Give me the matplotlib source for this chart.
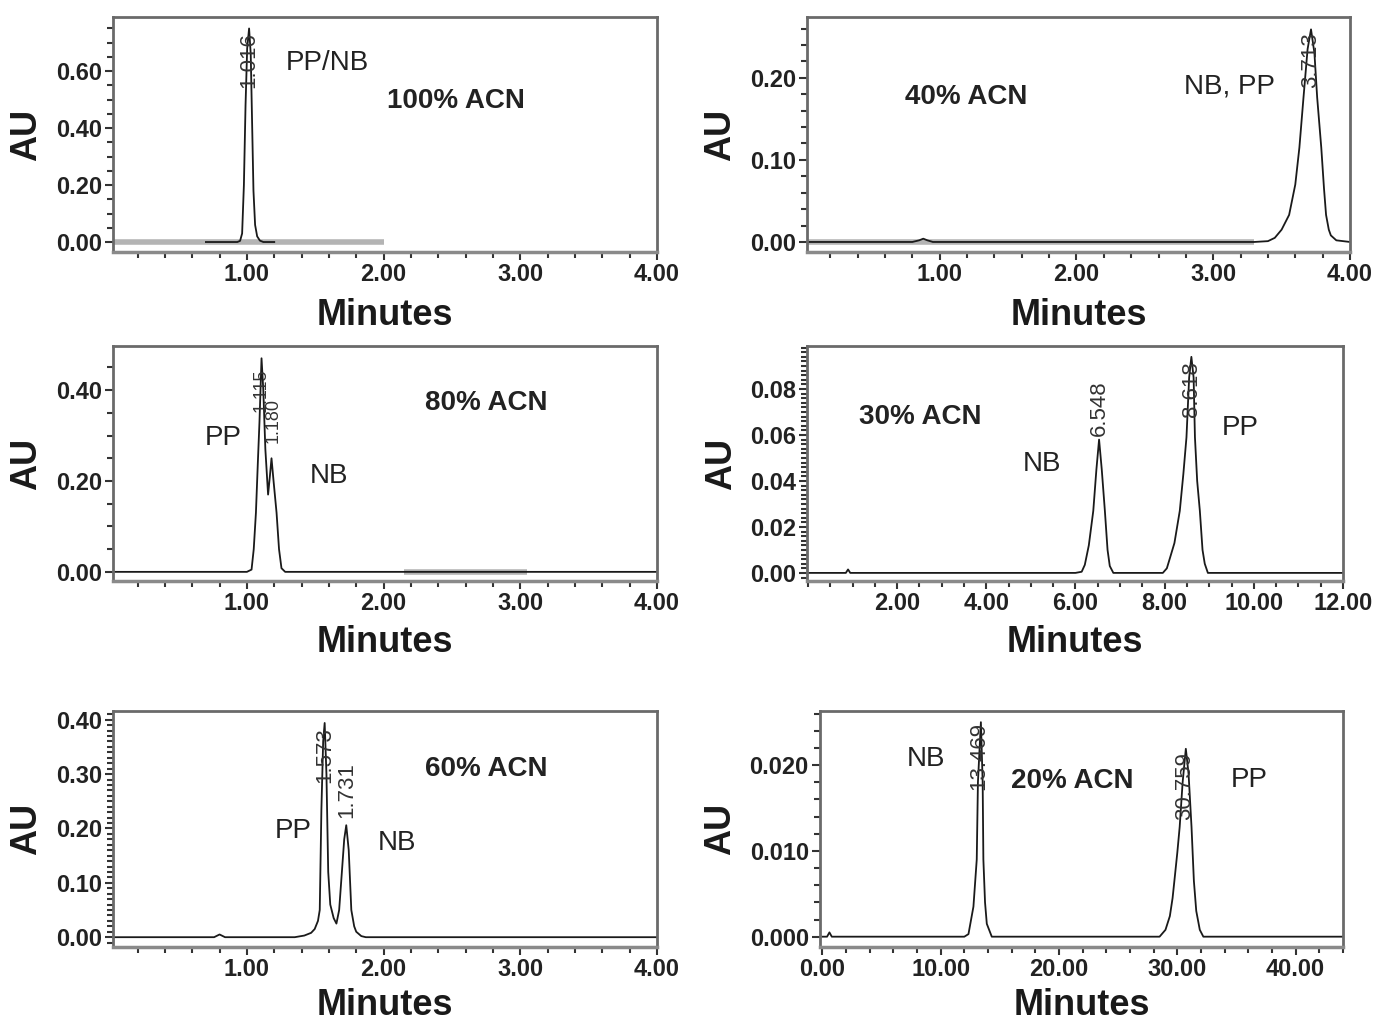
import matplotlib
matplotlib.use("Agg")
import matplotlib.pyplot as plt
from matplotlib.ticker import MultipleLocator, FormatStrFormatter

plt.rcParams['font.family'] = ['Liberation Sans', 'DejaVu Sans']

# ---- traces (time in min, absorbance in AU) ----
# 100% ACN
t_100 = [0.70, 0.93, 0.95, 0.965, 0.978, 0.99, 1.002, 1.016, 1.028, 1.038, 1.048, 1.06, 1.075, 1.095, 1.12, 1.20]
au_100 = [0.0, 0.0, 0.004, 0.03, 0.20, 0.48, 0.68, 0.75, 0.66, 0.42, 0.18, 0.06, 0.02, 0.005, 0.0, 0.0]

# 40% ACN
t_40 = [0.0, 0.80, 0.85, 0.88, 0.91, 0.95, 3.30, 3.40, 3.45, 3.50, 3.555, 3.60, 3.63, 3.66, 3.69, 3.715,
        3.74, 3.76, 3.79, 3.81, 3.825, 3.845, 3.86, 3.90, 4.0]
au_40 = [0.0, 0.0, 0.002, 0.004, 0.002, 0.0, 0.0, 0.001, 0.005, 0.015, 0.033, 0.07, 0.115, 0.176, 0.235, 0.259,
         0.23, 0.176, 0.115, 0.065, 0.033, 0.015, 0.008, 0.002, 0.0]

# 80% ACN
t_80 = [0.0, 1.00, 1.034, 1.05, 1.066, 1.08, 1.092, 1.107, 1.12, 1.135, 1.155, 1.168, 1.18, 1.195, 1.217,
        1.235, 1.253, 1.28, 4.0]
au_80 = [0.0, 0.0, 0.005, 0.05, 0.13, 0.24, 0.33, 0.47, 0.40, 0.27, 0.17, 0.21, 0.25, 0.20, 0.13,
         0.05, 0.008, 0.0, 0.0]

# 30% ACN
t_30 = [0.0, 0.85, 0.9, 0.95, 1.0, 6.0, 6.14, 6.21, 6.30, 6.40, 6.47, 6.53, 6.59, 6.66, 6.72, 6.77, 6.85,
        7.96, 8.05, 8.12, 8.22, 8.34, 8.42, 8.49, 8.55, 8.60, 8.65, 8.68, 8.73, 8.79, 8.85, 8.90, 8.97, 12.0]
au_30 = [0.0, 0.0, 0.0015, 0.0, 0.0, 0.0, 0.0005, 0.0035, 0.012, 0.027, 0.045, 0.058, 0.045, 0.027, 0.010, 0.003, 0.0,
         0.0, 0.002, 0.0065, 0.013, 0.027, 0.043, 0.059, 0.085, 0.094, 0.085, 0.059, 0.04, 0.027, 0.01, 0.004, 0.0, 0.0]

# 60% ACN
t_60 = [0.0, 0.76, 0.80, 0.84, 1.35, 1.42, 1.47, 1.496, 1.52, 1.533, 1.545, 1.558, 1.569, 1.582, 1.595, 1.61,
        1.635, 1.655, 1.675, 1.695, 1.712, 1.727, 1.745, 1.764, 1.785, 1.80, 1.837, 1.87, 4.0]
au_60 = [0.0, 0.0, 0.005, 0.0, 0.0, 0.003, 0.008, 0.015, 0.03, 0.05, 0.234, 0.36, 0.394, 0.30, 0.12, 0.06,
         0.035, 0.025, 0.05, 0.12, 0.18, 0.206, 0.16, 0.05, 0.02, 0.01, 0.002, 0.0, 0.0]

# 20% ACN
t_20 = [0.0, 0.4, 0.6, 0.8, 12.0, 12.35, 12.77, 13.05, 13.15, 13.4, 13.55, 13.61, 13.75, 13.9, 14.32,
        28.5, 29.0, 29.37, 29.6, 29.79, 30.0, 30.2, 30.45, 30.72, 30.95, 31.2, 31.4, 31.6, 31.9, 32.2, 44.0]
au_20 = [0.0, 0.0, 0.0005, 0.0, 0.0, 0.0003, 0.0035, 0.009, 0.018, 0.025, 0.018, 0.009, 0.004, 0.0015, 0.0,
         0.0, 0.0008, 0.0024, 0.0045, 0.007, 0.0098, 0.0128, 0.018, 0.0219, 0.019, 0.0128, 0.0065, 0.003, 0.0008,
         0.0, 0.0]

# gray integration baselines (start, end)
base_100 = [0.0, 2.0]
base_40 = [0.0, 3.30]
base_80 = [2.15, 3.05]

# peak retention-time labels (time, label y, text)
rt_100 = [(1.015, 0.64, "1.016")]
rt_40 = [(3.715, 0.222, "3.713")]
rt_80 = [(1.103, 0.40, "1.115"), (1.19, 0.334, "1.180")]
rt_30 = [(6.53, 0.0717, "6.548"), (8.60, 0.080, "8.618")]
rt_60 = [(1.569, 0.335, "1.573"), (1.727, 0.27, "1.731")]
rt_20 = [(13.2, 0.021, "13.469"), (30.6, 0.0176, "30.759")]

# compound / condition labels (x, y, text, bold)
notes_100 = [(1.59, 0.63, "PP/NB", False), (2.53, 0.495, "100% ACN", True)]
notes_40 = [(1.197, 0.176, "40% ACN", True), (3.117, 0.189, "NB, PP", False)]
notes_80 = [(0.825, 0.295, "PP", False), (1.60, 0.211, "NB", False), (2.75, 0.371, "80% ACN", True)]
notes_30 = [(2.53, 0.0678, "30% ACN", True), (5.25, 0.0474, "NB", False), (9.69, 0.063, "PP", False)]
notes_60 = [(1.336, 0.195, "PP", False), (2.10, 0.173, "NB", False), (2.75, 0.309, "60% ACN", True)]
notes_20 = [(8.78, 0.0207, "NB", False), (21.1, 0.0181, "20% ACN", True), (36.1, 0.0183, "PP", False)]

xt_4 = [1.0, 2.0, 3.0, 4.0]
xt_12 = [2.0, 4.0, 6.0, 8.0, 10.0, 12.0]
xt_44 = [0.0, 10.0, 20.0, 30.0, 40.0]

fig = plt.figure(figsize=(13.76, 10.21), dpi=100)

panels = [
    # rect, t, au, xlim, ylim, xticks, yticks, xminor, yminor, yfmt, rt, notes, base, xlab_y, ylab_x, rt size
    ([0.0821, 0.7532, 0.3953, 0.2301], t_100, au_100, (0.02, 4.0), (-0.035, 0.79), xt_4,
     [0.0, 0.2, 0.4, 0.6], 0.2, 0.05, '%.2f', rt_100, notes_100, base_100, -0.272, -0.158, 16),
    ([0.5865, 0.7532, 0.3946, 0.2301], t_40, au_40, (0.03, 4.0), (-0.0122, 0.274), xt_4,
     [0.0, 0.1, 0.2], 0.2, 0.02, '%.2f', rt_40, notes_40, base_40, -0.272, -0.16, 16),
    ([0.0821, 0.4310, 0.3953, 0.2301], t_80, au_80, (0.02, 4.0), (-0.02, 0.497), xt_4,
     [0.0, 0.2, 0.4], 0.2, 0.05, '%.2f', rt_80, notes_80, base_80, -0.264, -0.158, 13),
    ([0.5865, 0.4310, 0.3895, 0.2301], t_30, au_30, (-0.02, 12.0), (-0.0035, 0.0987), xt_12,
     [0.0, 0.02, 0.04, 0.06, 0.08], 0.5, 0.002, '%.2f', rt_30, notes_30, None, -0.264, -0.16, 16),
    ([0.0821, 0.0725, 0.3953, 0.2311], t_60, au_60, (0.02, 4.0), (-0.018, 0.416), xt_4,
     [0.0, 0.1, 0.2, 0.3, 0.4], 0.2, 0.01, '%.2f', rt_60, notes_60, None, -0.246, -0.158, 16),
    ([0.5959, 0.0725, 0.3801, 0.2311], t_20, au_20, (-0.2, 44.0), (-0.0012, 0.0263), xt_44,
     [0.0, 0.01, 0.02], 2.0, 0.002, '%.3f', rt_20, notes_20, None, -0.246, -0.19, 16),
]

for (rect, t, au, xl, yl, xt, yt, xmin, ymin, yfmt, rts, notes, base, xly, ylx, rsize) in panels:
    ax = fig.add_axes(rect)
    if base is not None:
        ax.plot(base, [0.0, 0.0], color='#b4b4b4', lw=4.0, solid_capstyle='butt', zorder=1)
    ax.plot(t, au, color='#1a1a1a', lw=1.3, zorder=2)
    ax.set_xlim(*xl)
    ax.set_ylim(*yl)
    ax.set_xticks(xt)
    ax.set_yticks(yt)
    ax.xaxis.set_minor_locator(MultipleLocator(xmin))
    ax.yaxis.set_minor_locator(MultipleLocator(ymin))
    ax.xaxis.set_major_formatter(FormatStrFormatter('%.2f'))
    ax.yaxis.set_major_formatter(FormatStrFormatter(yfmt))
    ax.tick_params(which='major', direction='out', length=6, width=1.5, color='#333333',
                   labelsize=17, pad=2)
    ax.tick_params(which='minor', direction='out', length=4, width=1.5, color='#333333')
    for lab in ax.get_xticklabels() + ax.get_yticklabels():
        lab.set_fontweight('bold')
        lab.set_color('#222222')
    for side in ['left', 'right', 'top', 'bottom']:
        ax.spines[side].set_color('#6a6a6a')
        ax.spines[side].set_linewidth(2.0)
    ax.spines['bottom'].set_color('#8a8a8a')
    ax.spines['bottom'].set_linewidth(2.5)

    ax.set_xlabel('Minutes', fontsize=26, fontweight='bold', color='#1a1a1a')
    ax.xaxis.set_label_coords(0.5, xly)
    ax.xaxis.label.set_va('center')
    ax.set_ylabel('AU', fontsize=26, fontweight='bold', color='#1a1a1a')
    ax.yaxis.set_label_coords(ylx, 0.5)
    ax.yaxis.label.set_va('center')

    for (x, y, s) in rts:
        ax.text(x, y, s, rotation=90, ha='center', va='center', fontsize=rsize, color='#333333', zorder=3)
    for (x, y, s, b) in notes:
        ax.text(x, y, s, ha='center', va='center', fontsize=20,
                fontweight='bold' if b else 'normal', color='#222222')

fig.savefig('out.png', dpi=100)
